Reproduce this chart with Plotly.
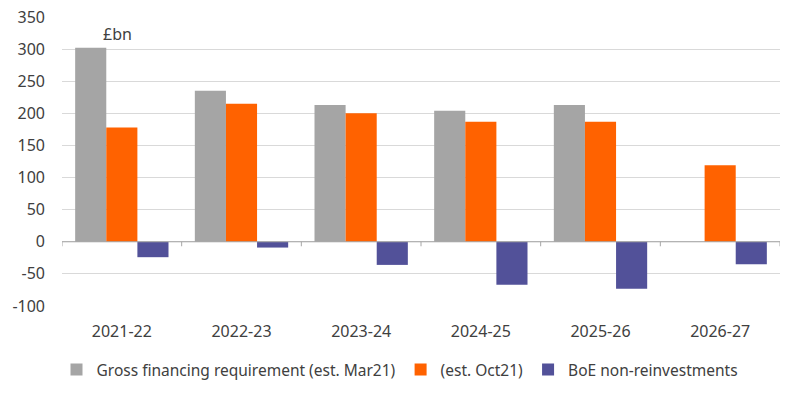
import plotly.graph_objects as go

categories = ["2021-22", "2022-23", "2023-24", "2024-25", "2025-26", "2026-27"]
gross_mar21 = [302, 235, 213, 204, 213, None]
est_oct21 = [178, 215, 200, 187, 187, 119]
boe_nonreinv = [-24, -9, -36, -67, -73, -35]
y_ticks = [-100, -50, 0, 50, 100, 150, 200, 250, 300, 350]
y_tick_labels = [str(v) for v in y_ticks]

GRAY = "#A5A5A5"
ORANGE = "#FF6200"
PURPLE = "#525199"
FONT = "Noto Sans"
TXT = "#404040"

fig = go.Figure()
fig.add_bar(x=categories, y=gross_mar21, name="Gross financing requirement (est. Mar21)",
            marker=dict(color=GRAY, line=dict(width=0)))
fig.add_bar(x=categories, y=est_oct21, name="(est. Oct21)",
            marker=dict(color=ORANGE, line=dict(width=0)))
fig.add_bar(x=categories, y=boe_nonreinv, name="BoE non-reinvestments",
            marker=dict(color=PURPLE, line=dict(width=0)))

shapes = [dict(type="line", xref="x", yref="y", x0=-0.5, x1=len(categories) - 0.5,
               y0=0, y1=0, line=dict(color="#A6A6A6", width=1))]
for i in range(len(categories) + 1):
    shapes.append(dict(type="line", xref="x", yref="y", x0=i - 0.5, x1=i - 0.5,
                       y0=0, y1=-7, line=dict(color="#A6A6A6", width=1)))

fig.update_layout(
    width=800, height=394,
    margin=dict(l=62, r=20, t=17, b=88, autoexpand=False),
    paper_bgcolor="white", plot_bgcolor="white",
    barmode="group", bargap=0.22, bargroupgap=0,
    font=dict(family=FONT, size=16, color=TXT),
    showlegend=True,
    legend=dict(orientation="h", x=0.5, xanchor="center", xref="container",
                y=24 / 394, yanchor="middle", yref="container",
                font=dict(size=15.5, color=TXT), itemwidth=30, traceorder="normal"),
    xaxis=dict(type="category", range=[-0.5, 5.5], showline=False, showgrid=False,
               ticks="", zeroline=False, automargin=False,
               tickfont=dict(size=16, color=TXT), ticklabelstandoff=14),
    yaxis=dict(range=[-100, 350], tickvals=y_ticks, ticktext=y_tick_labels,
               showgrid=True, gridcolor="#D9D9D9",
               gridwidth=1, zeroline=False, showline=False, ticks="", automargin=False,
               tickfont=dict(size=16, color=TXT), ticklabelstandoff=16),
    shapes=shapes,
    annotations=[dict(text="£bn", xref="paper", yref="paper", x=0.055, y=0.94,
                      xanchor="left", yanchor="middle", showarrow=False,
                      font=dict(size=16, color=TXT))],
)

fig.write_html("out.html", config={"displayModeBar": False},
               post_script="document.body.style.margin='0';document.body.style.overflow='hidden';")
